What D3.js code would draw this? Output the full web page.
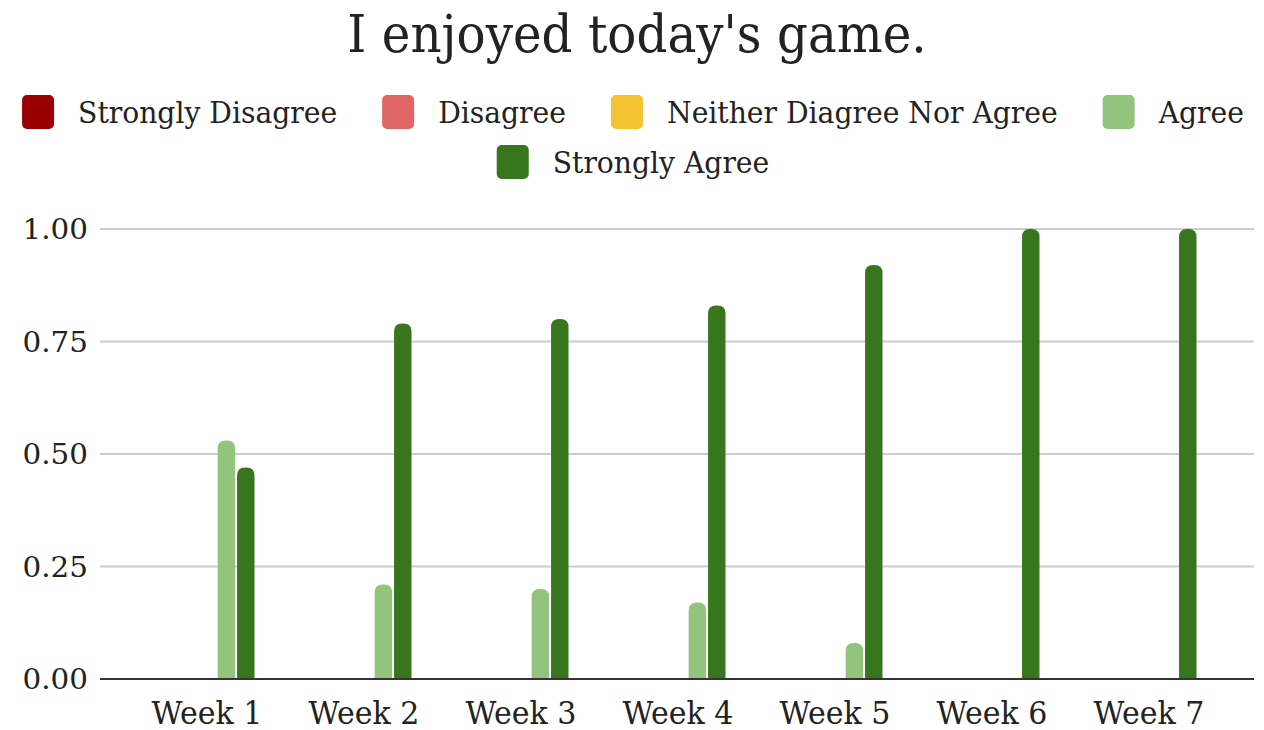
<!DOCTYPE html>
<html>
<head>
<meta charset="utf-8">
<script src="https://cdn.jsdelivr.net/npm/d3@7"></script>
<style>
  body { margin: 0; background: #fff; }
  text { font-family: "DejaVu Serif", Georgia, serif; fill: #222; }
</style>
</head>
<body>
<div id="chart"></div>
<script>
// Data
const weeks = ["Week 1", "Week 2", "Week 3", "Week 4", "Week 5", "Week 6", "Week 7"];
const series = ["Strongly Disagree", "Disagree", "Neither Diagree Nor Agree", "Agree", "Strongly Agree"];
const colors = ["#990000", "#e06666", "#f1c232", "#93c47d", "#38761d"];
const stronglyDisagree = [0, 0, 0, 0, 0, 0, 0];
const disagree = [0, 0, 0, 0, 0, 0, 0];
const neither = [0, 0, 0, 0, 0, 0, 0];
const agree = [0.53, 0.21, 0.20, 0.17, 0.08, 0, 0];
const stronglyAgree = [0.47, 0.79, 0.80, 0.83, 0.92, 1.00, 1.00];
const yTicks = [0, 0.25, 0.5, 0.75, 1];

const values = [stronglyDisagree, disagree, neither, agree, stronglyAgree];

const W = 1264, H = 730;
const svg = d3.select("#chart").append("svg")
    .attr("width", W)
    .attr("height", H);

// Plot area
const plot = { left: 100, right: 1254, top: 229, bottom: 679 };

const x = d3.scaleBand()
    .domain(weeks)
    .range([128.5, 1227.5]);

const xSub = d3.scaleBand()
    .domain(series)
    .range([-47.5, 47.5])
    .paddingInner(0.1);

const y = d3.scaleLinear()
    .domain([0, 1])
    .range([plot.bottom, plot.top]);

// squeeze text horizontally
function squeeze(sel, k) {
    sel.each(function() {
        const w = this.getComputedTextLength();
        d3.select(this)
            .attr("textLength", w * k)
            .attr("lengthAdjust", "spacingAndGlyphs");
    });
}

// Gridlines
svg.append("g")
    .selectAll("line")
    .data(yTicks.slice(1))
    .join("line")
    .attr("x1", plot.left)
    .attr("x2", plot.right)
    .attr("y1", d => y(d))
    .attr("y2", d => y(d))
    .attr("stroke", "#cccccc")
    .attr("stroke-width", 2);

// Y axis labels
svg.append("g")
    .selectAll("text")
    .data(yTicks)
    .join("text")
    .attr("x", 88)
    .attr("y", d => y(d))
    .attr("dy", "0.36em")
    .attr("text-anchor", "end")
    .style("font-size", "28px")
    .text(d => d3.format(".2f")(d))
    .call(squeeze, 1.05);

// Bars, rounded top
function barPath(x0, w, y0, y1) {
    const r = Math.min(w / 2, 8, (y0 - y1));
    return `M${x0},${y0}V${y1 + r}Q${x0},${y1} ${x0 + r},${y1}H${x0 + w - r}Q${x0 + w},${y1} ${x0 + w},${y1 + r}V${y0}Z`;
}

const groups = svg.append("g")
    .selectAll("g")
    .data(weeks)
    .join("g")
    .attr("transform", d => `translate(${x(d) + x.bandwidth() / 2},0)`);

groups.selectAll("path")
    .data((d, i) => series.map((s, j) => ({ s, j, v: values[j][i] })).filter(e => e.v > 0))
    .join("path")
    .attr("fill", e => colors[e.j])
    .attr("d", e => barPath(xSub(e.s), xSub.bandwidth(), y(0), y(e.v)));

// Baseline
svg.append("line")
    .attr("x1", plot.left)
    .attr("x2", plot.right)
    .attr("y1", y(0))
    .attr("y2", y(0))
    .attr("stroke", "#333")
    .attr("stroke-width", 2);

// X labels
svg.append("g")
    .selectAll("text")
    .data(weeks)
    .join("text")
    .attr("x", d => x(d) + x.bandwidth() / 2)
    .attr("y", 724)
    .attr("text-anchor", "middle")
    .style("font-size", "31px")
    .text(d => d)
    .call(squeeze, 0.97);

// Title
svg.append("text")
    .attr("x", 637)
    .attr("y", 52)
    .attr("text-anchor", "middle")
    .style("font-size", "52px")
    .text("I enjoyed today's game.")
    .call(squeeze, 0.93);

// Legend
const legendRows = [series.slice(0, 4), series.slice(4)];
const legendY = [112, 162];
const sqW = 32, sqH = 34, gapSq = 24, gapItem = 45;
legendRows.forEach((row, r) => {
    const g = svg.append("g");
    const items = g.selectAll("g")
        .data(row)
        .join("g");
    items.append("rect")
        .attr("width", sqW)
        .attr("height", sqH)
        .attr("rx", 5)
        .attr("y", legendY[r] - sqH / 2)
        .attr("fill", d => colors[series.indexOf(d)]);
    items.append("text")
        .attr("x", sqW + gapSq)
        .attr("y", legendY[r])
        .attr("dy", "0.36em")
        .style("font-size", "30px")
        .text(d => d)
        .call(squeeze, 0.94);
    // lay out and center
    const widths = [];
    items.each(function() {
        const t = d3.select(this).select("text");
        widths.push(sqW + gapSq + (+t.attr("textLength")));
    });
    const total = d3.sum(widths) + gapItem * (widths.length - 1);
    let start = 633 - total / 2;
    items.attr("transform", (d, i) => {
        const t = `translate(${start},0)`;
        start += widths[i] + gapItem;
        return t;
    });
});
</script>
</body>
</html>
